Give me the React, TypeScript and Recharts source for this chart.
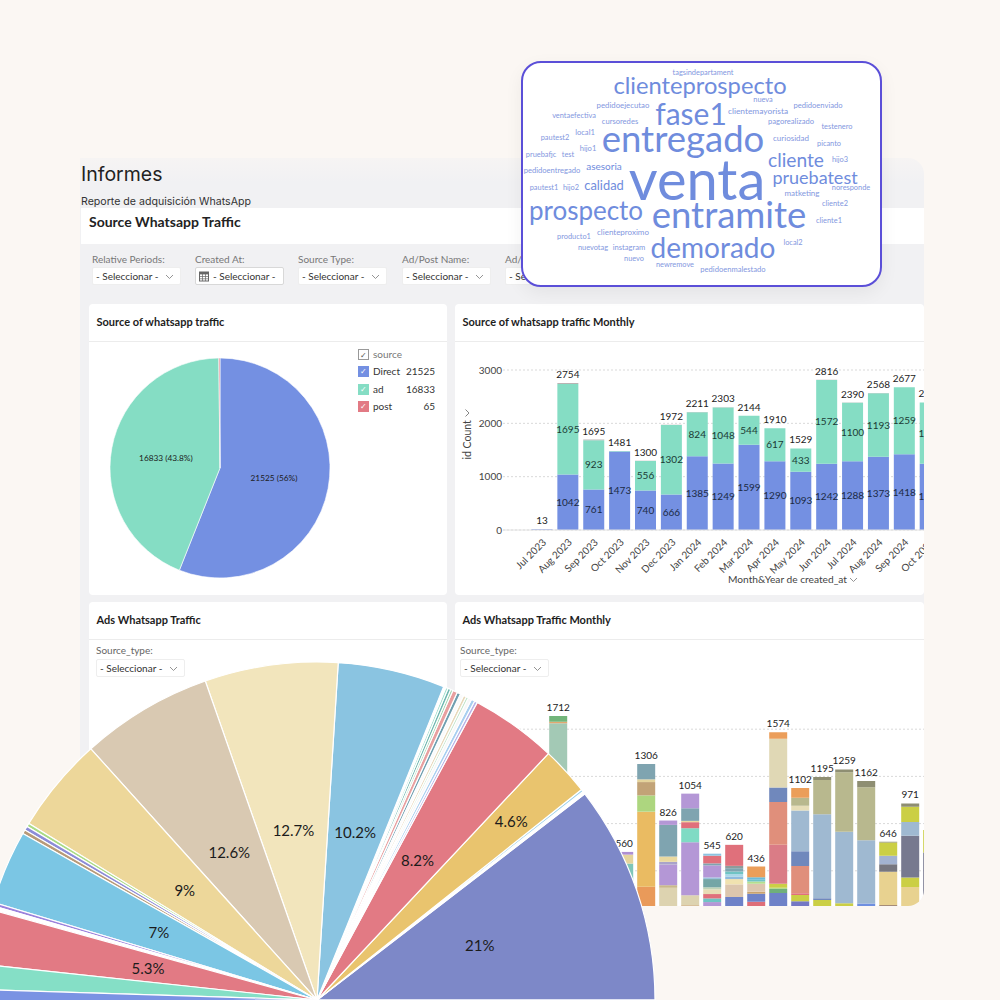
import React from 'react'
import {
  BarChart,
  Bar,
  XAxis,
  YAxis,
  CartesianGrid,
  LabelList,
  PieChart,
  Pie,
  Cell,
} from 'recharts'

const LATO = 'Lato, sans-serif'

// Source of whatsapp traffic
const SOURCE_NAMES = ['Direct', 'ad', 'post']
const SOURCE_VALUES = [21525, 16833, 65]
const SOURCE_LABELS = ['21525 (56%)', '16833 (43.8%)', '']
const SOURCE_COLORS = ['#7490E2', '#85DDC4', '#E27A84']

// Source of whatsapp traffic Monthly
const MONTHS = ['', 'Jul 2023', 'Aug 2023', 'Sep 2023', 'Oct 2023', 'Nov 2023', 'Dec 2023', 'Jan 2024', 'Feb 2024', 'Mar 2024', 'Apr 2024', 'May 2024', 'Jun 2024', 'Jul 2024', 'Aug 2024', 'Sep 2024', 'Oct 2024']
const DIRECT_MONTHLY = [0, 13, 1042, 761, 1473, 740, 666, 1385, 1249, 1599, 1290, 1093, 1242, 1288, 1373, 1418, 1240]
const AD_MONTHLY = [0, 0, 1695, 923, 8, 556, 1302, 824, 1048, 544, 617, 433, 1572, 1100, 1193, 1259, 1150]
const POST_MONTHLY = [0, 0, 17, 11, 0, 4, 4, 2, 6, 1, 3, 3, 2, 2, 2, 0, 2]
const TOTAL_MONTHLY = [null, 13, 2754, 1695, 1481, 1300, 1972, 2211, 2303, 2144, 1910, 1529, 2816, 2390, 2568, 2677, 2392]

// Ads Whatsapp Traffic Monthly, each bar listed from the bottom segment up
const AD_VALUES = [
  [220, 190],
  [300, 260],
  [1650, 14, 48],
  [420, 280],
  [260, 190],
  [311, 150, 76, 23],
  [265, 636, 138, 113, 23, 130],
  [256, 22, 175, 23, 45, 268, 37],
  [108, 85, 449, 119, 51, 11, 107, 124],
  [135, 31, 37, 40, 17, 70, 14, 102, 17, 65, 17],
  [178, 107, 45, 22, 20, 22, 28, 20, 178],
  [137, 68, 17, 68, 20, 14, 22, 90],
  [211, 34, 11, 34, 330, 364, 121, 415, 54],
  [141, 54, 14, 232, 124, 347, 40, 68, 82],
  [153, 14, 712, 291, 25],
  [125, 605, 506, 23],
  [122, 537, 449, 54],
  [111, 280, 65, 71, 113, 6],
  [262, 82, 353, 116, 130, 28],
  [556, 189],
]
const AD_COLORS = [
  ['#9BB8D2', '#E9BD66'],
  ['#7A93E3', '#E27A84'],
  ['#A3C9B5', '#E2A76F', '#72B57A'],
  ['#9BB8D2', '#E9BD66'],
  ['#7A93E3', '#E27A84'],
  ['#E99A5A', '#7FC6B8', '#E5D49C', '#AE8FD3'],
  ['#E99A5A', '#EABB62', '#ADD67F', '#C2A377', '#E5D49C', '#7FA4B0'],
  ['#DDD3B0', '#C9B98A', '#B497D6', '#A9A3C9', '#EAD9A0', '#7FA4B0', '#B497D6'],
  ['#C9A36F', '#DDD3B0', '#B497D6', '#7FDBC4', '#E0707B', '#EAD9A0', '#7FA4B0', '#B497D6'],
  ['#B497D6', '#6FC4C4', '#E0707B', '#E8DDB5', '#BFD3B5', '#74A6A6', '#9CC3DD', '#B497D6', '#7FA4B0', '#E0707B', '#8CC3E0'],
  ['#6E82C8', '#DCC6AE', '#F0E2B0', '#8FBBDD', '#A8D8E8', '#6FC4C4', '#7FA4B0', '#8E9C9C', '#E0707B'],
  ['#DE6E78', '#6E82C8', '#C9A36F', '#DCC6AE', '#B5DE8F', '#6FC4C4', '#6BBAD8', '#EB9E5A'],
  ['#6E82C8', '#6FAF7A', '#B5DE8F', '#CBCF45', '#DA7C86', '#E08F7B', '#7088BC', '#E0D8B5', '#EB9E5A'],
  ['#7478C4', '#CBCF45', '#E0707B', '#E08F7B', '#7088BC', '#9FB9D1', '#E6DDB8', '#B8B88E', '#EB9E5A'],
  ['#CBCF45', '#7088BC', '#9FB9D1', '#B8B88E', '#8E8E72'],
  ['#CBCF45', '#9FB9D1', '#B8B88E', '#8E8E72'],
  ['#6E8FE0', '#9FB9D1', '#B8B88E', '#8E8E72'],
  ['#A58C78', '#E8D290', '#77777F', '#A3B3D0', '#CBCF45', '#8E8E72'],
  ['#E8D290', '#CBCF45', '#77798F', '#9FB9D1', '#CBCF45', '#8E8E72'],
  ['#77798F', '#CBCF45'],
]
const AD_TOTALS = [null, null, 1712, null, null, 560, 1306, 826, 1054, 545, 620, 436, 1574, 1102, 1195, 1259, 1162, 646, 971, null]

// Big overlay pie. Drawn sweep in degrees, labels as printed on it
const BIG_SWEEP = [37.6, 0.5, 0.4, 8.3, 14.9, 0.5, 0.6, 0.6, 0.4, 0.5, 0.6, 0.6, 0.8, 0.4, 0.5, 0.4, 0.4, 18.4, 22.9, 22.7, 16.5, 0.6, 0.7, 0.7, 12.7, 0.6, 0.7, 9.4, 4.3, 2.2, 179.6]
const BIG_LABELS = ['21%', '', '', '4.6%', '8.2%', '', '', '', '', '', '', '', '', '', '', '', '', '10.2%', '12.7%', '12.6%', '9%', '', '', '', '7%', '', '', '5.3%', '', '', '']
const BIG_COLORS = ['#7D88C8', '#FFFFFF', '#9AD0EA', '#E9C46E', '#E27A84', '#B8B4E8', '#A8CFF0', '#F7F7F7', '#BFE3C8', '#E7D8B8', '#FAFAFA', '#6F9FB0', '#E8A0A0', '#9FD4B0', '#6FB8B0', '#A5E0D0', '#FFFFFF', '#8AC4E1', '#F2E5BC', '#D9C9B2', '#EDD79A', '#A9DB85', '#8C8CD8', '#B89A78', '#7BC6E4', '#9B82DC', '#FFFFFF', '#E27A84', '#85DFC6', '#7A93E3', '#7A93E3']

const FILTERS = ['Relative Periods:', 'Created At:', 'Source Type:', 'Ad/Post Name:', 'Ad/Post Id:']
const FILTER_X = [92, 195, 298, 402, 505]

const CLOUD_WORDS = [
  'venta', 'entregado', 'entramite', 'clienteprospecto', 'fase1', 'prospecto', 'demorado', 'cliente', 'pruebatest', 'calidad', 'asesoria',
  'tagsindepartament', 'nueva', 'pedidoejecutao', 'pedidoenviado', 'clientemayorista', 'ventaefectiva', 'cursoredes', 'pagorealizado',
  'testenero', 'local1', 'curiosidad', 'pautest2', 'picanto', 'hijo1', 'pruebafjc', 'test', 'hijo3', 'pedidoentregado', 'hijo2', 'pautest1',
  'matketing', 'noresponde', 'cliente2', 'cliente1', 'clienteproximo', 'producto1', 'local2', 'nuevotag', 'instagram', 'nuevo', 'newremove', 'pedidoenmalestado',
]
const CLOUD_X = [697, 683, 729, 700, 691, 586, 713, 796, 815, 604, 604, 703, 763, 623, 818, 758, 574, 620, 791, 837, 585, 791, 555, 829, 588, 541, 568, 840, 552, 571, 544, 802, 851, 835, 829, 623, 574, 793, 593, 629, 634, 675, 733]
const CLOUD_Y = [179, 138, 214, 86, 113, 210, 247, 160, 177, 185, 166, 73, 100, 106, 106, 111, 116, 122, 122, 127, 133, 138, 138, 144, 149, 155, 155, 160, 171, 188, 188, 193, 188, 204, 221, 232, 237, 243, 248, 248, 259, 265, 270]
const CLOUD_SIZE = [56, 36.5, 36.5, 23.7, 30, 26, 28, 19.2, 18, 12.9, 10, 7.4, 7.4, 7.8, 7.6, 8.4, 7.4, 7.6, 7.6, 7.4, 7.6, 8, 7.4, 7.4, 7.6, 7.4, 7.4, 7.4, 7.6, 7.4, 7.4, 8, 7.4, 7.4, 7.4, 8, 7.4, 7.4, 7.4, 7.6, 7.4, 7.4, 7.6]

const monthlyRows = MONTHS.map((month, i) => ({
  month,
  direct: DIRECT_MONTHLY[i],
  ad: AD_MONTHLY[i],
  post: POST_MONTHLY[i],
  cap: 0.01,
  total: TOTAL_MONTHLY[i],
}))

const adRows = AD_VALUES.map((segments, i) => {
  const row: Record<string, number | null> = { total: AD_TOTALS[i], cap: 0.01 }
  segments.forEach((v, j) => {
    row[`s${j}`] = v
  })
  return row
})
const maxSegments = Math.max(...AD_VALUES.map(s => s.length))
const segmentKeys = Array.from({ length: maxSegments }, (_, j) => j)

const sourceRows = SOURCE_NAMES.map((name, i) => ({ name, value: SOURCE_VALUES[i] }))
const bigRows = BIG_SWEEP.map((value, i) => ({ value, name: BIG_LABELS[i] }))

const bigPieLabel = (props: any) => {
  const { cx, cy, midAngle, index } = props
  const text = BIG_LABELS[index]
  if (!text) return null
  const radius = BIG_SWEEP[index] < 9 ? 264 : 172
  const rad = (midAngle * Math.PI) / 180
  return (
    <text x={cx + radius * Math.cos(rad)} y={cy - radius * Math.sin(rad)} fill="#1b1b1b" fontSize={15} fontFamily={LATO} textAnchor="middle" dominantBaseline="central">
      {text}
    </text>
  )
}

const sourceLabel = (props: any) => {
  const { cx, cy, midAngle, index } = props
  const text = SOURCE_LABELS[index]
  if (!text) return null
  const radius = 55
  const rad = (midAngle * Math.PI) / 180
  return (
    <text x={cx + radius * Math.cos(rad)} y={cy - radius * Math.sin(rad)} fill="#1b1b1b" fontSize={8.3} fontFamily={LATO} textAnchor="middle" dominantBaseline="central">
      {text}
    </text>
  )
}

const hideSmall = (v: any) => (v >= 100 ? v : '')

const Chevron = ({ x, y, color = '#888' }: { x: number; y: number; color?: string }) => (
  <svg style={{ position: 'absolute', left: x, top: y }} width={9} height={6}>
    <path d="M1 1 L4.5 4.5 L8 1" fill="none" stroke={color} strokeWidth={0.9} />
  </svg>
)

const Select = ({ x, y, w = 89, calendar = false }: { x: number; y: number; w?: number; calendar?: boolean }) => (
  <div style={{ position: 'absolute', left: x, top: y, width: w, height: 18, background: '#fff', border: calendar ? '1px solid #d8d8d8' : '1px solid #eeeeee', borderRadius: 2, boxSizing: 'border-box', fontSize: 10, lineHeight: '16px', color: '#333', fontFamily: LATO }}>
    {calendar && (
      <svg style={{ position: 'absolute', left: 3, top: 3 }} width={11} height={11}>
        <rect x={0.5} y={1} width={9} height={9} fill="#fff" stroke="#666" />
        <rect x={0.5} y={1} width={9} height={2.4} fill="#666" />
        <path d="M0.5 5.5H9.5M0.5 7.8H9.5M3.5 3V10M6.5 3V10" stroke="#666" strokeWidth={0.7} />
      </svg>
    )}
    <span style={{ position: 'absolute', left: calendar ? 17 : 3, top: 0, whiteSpace: 'nowrap' }}>- Seleccionar -</span>
    {!calendar && <Chevron x={w - 17} y={6} />}
  </div>
)

const Card = ({ x, y, w, h, title, radius, children }: any) => (
  <div style={{ position: 'absolute', left: x, top: y, width: w, height: h, background: '#fff', borderRadius: radius || '4px', overflow: 'hidden' }}>
    <div style={{ position: 'absolute', left: 7.5, top: 11, fontSize: 11, lineHeight: '14px', fontWeight: 700, color: '#1d1d1d', fontFamily: LATO, whiteSpace: 'nowrap' }}>{title}</div>
    <div style={{ position: 'absolute', left: 0, right: 0, top: 37, height: 1, background: '#ececec' }} />
    {children}
  </div>
)

const LegendBox = ({ y, color, check = '#fff' }: { y: number; color: string; check?: string }) => (
  <div style={{ position: 'absolute', left: 358, top: y, width: 11, height: 11, background: color, border: color === '#fff' ? '1px solid #999' : 'none', boxSizing: 'border-box', color: check, fontSize: 8, lineHeight: '11px', textAlign: 'center' }}>✓</div>
)

const App = () => {
  return (
    <div style={{ position: 'absolute', left: 0, top: 0, width: 1000, height: 1000, background: '#FBF7F3', overflow: 'hidden', fontFamily: LATO }}>
      {/* dashboard panel */}
      <div style={{ position: 'absolute', left: 80, top: 158, width: 844, height: 748, background: 'linear-gradient(#F6F4F3 0, #F1F1F3 24px)', borderRadius: '0 16px 16px 0' }} />
      <div style={{ position: 'absolute', left: 81, top: 162, fontSize: 19.5, lineHeight: '24px', color: '#222', fontFamily: 'Inter, sans-serif' }}>Informes</div>
      <div style={{ position: 'absolute', left: 81, top: 195, fontSize: 10.6, lineHeight: '14px', color: '#333', fontFamily: 'Inter, sans-serif', whiteSpace: 'nowrap' }}>Reporte de adquisición WhatsApp</div>
      <div style={{ position: 'absolute', left: 81, top: 208, width: 843, height: 36, background: '#fff' }} />
      <div style={{ position: 'absolute', left: 89, top: 213, fontSize: 14, lineHeight: '18px', fontWeight: 700, color: '#222', whiteSpace: 'nowrap' }}>Source Whatsapp Traffic</div>

      {FILTERS.map((label, i) => (
        <React.Fragment key={label}>
          <div style={{ position: 'absolute', left: FILTER_X[i], top: 253, fontSize: 10, lineHeight: '13px', color: '#777', whiteSpace: 'nowrap' }}>{label}</div>
          <Select x={FILTER_X[i]} y={267} calendar={i === 1} />
        </React.Fragment>
      ))}

      <Card x={89} y={304} w={358} h={291} title="Source of whatsapp traffic">
        <div style={{ position: 'absolute', left: 0, top: 0 }}>
          <PieChart width={358} height={291} margin={{ top: 0, right: 0, bottom: 0, left: 0 }}>
            <Pie
              data={sourceRows}
              dataKey="value"
              cx={131}
              cy={164}
              outerRadius={110}
              startAngle={90}
              endAngle={-270}
              stroke="#fff"
              strokeWidth={0.6}
              label={sourceLabel}
              labelLine={false}
              isAnimationActive={false}
            >
              {sourceRows.map((_, i) => (
                <Cell key={i} fill={SOURCE_COLORS[i]} />
              ))}
            </Pie>
          </PieChart>
        </div>
      </Card>

      {/* legend of the source pie */}
      <LegendBox y={349} color="#fff" check="#555" />
      <div style={{ position: 'absolute', left: 373, top: 348, fontSize: 10, lineHeight: '13px', color: '#777' }}>source</div>
      {SOURCE_NAMES.map((name, i) => (
        <React.Fragment key={name}>
          <LegendBox y={366 + i * 17.5} color={SOURCE_COLORS[i]} />
          <div style={{ position: 'absolute', left: 373, top: 365 + i * 17.5, fontSize: 10, lineHeight: '13px', color: '#333' }}>{name}</div>
          <div style={{ position: 'absolute', right: 1000 - 435, top: 365 + i * 17.5, fontSize: 10, lineHeight: '13px', color: '#333' }}>{SOURCE_VALUES[i]}</div>
        </React.Fragment>
      ))}

      <Card x={455} y={304} w={469} h={291} title="Source of whatsapp traffic Monthly">
        <div style={{ position: 'absolute', left: 0, top: 46 }}>
          <BarChart width={488} height={240} data={monthlyRows} margin={{ top: 20, right: 0, bottom: 0, left: 0 }} barCategoryGap="10%">
            <CartesianGrid vertical={false} stroke="#d9d9d9" strokeDasharray="2 2" />
            <XAxis
              dataKey="month"
              interval={0}
              angle={-45}
              textAnchor="end"
              height={60}
              tickLine={false}
              tick={{ fontSize: 10, fill: '#444', fontFamily: LATO }}
              stroke="#e2e2e2"
            />
            <YAxis
              width={48}
              domain={[0, 3000]}
              ticks={[0, 1000, 2000, 3000]}
              axisLine={false}
              tickLine={false}
              tickSize={0}
              tickMargin={1}
              tick={{ fontSize: 10, fill: '#444', fontFamily: LATO }}
            />
            <Bar dataKey="direct" stackId="a" fill={SOURCE_COLORS[0]} isAnimationActive={false}>
              <LabelList dataKey="direct" position="center" formatter={hideSmall} fontSize={10} fill="#1b2a44" fontFamily={LATO} />
            </Bar>
            <Bar dataKey="ad" stackId="a" fill={SOURCE_COLORS[1]} isAnimationActive={false}>
              <LabelList dataKey="ad" position="center" formatter={hideSmall} fontSize={10} fill="#1b3a34" fontFamily={LATO} />
            </Bar>
            <Bar dataKey="post" stackId="a" fill="#B9B3B3" isAnimationActive={false} />
            <Bar dataKey="cap" stackId="a" fill="transparent" isAnimationActive={false}>
              <LabelList dataKey="total" position="top" fontSize={10} fill="#222" fontFamily={LATO} />
            </Bar>
          </BarChart>
        </div>
        <div style={{ position: 'absolute', left: -7, top: 129.5, width: 38, textAlign: 'center', fontSize: 10.5, lineHeight: '13px', color: '#444', transform: 'rotate(-90deg)', whiteSpace: 'nowrap' }}>id Count</div>
        <div style={{ position: 'absolute', left: 7.5, top: 106, transform: 'rotate(-90deg)' }}>
          <svg width={9} height={6} style={{ display: 'block' }}>
            <path d="M1 1 L4.5 4.5 L8 1" fill="none" stroke="#777" strokeWidth={0.9} />
          </svg>
        </div>
        <div style={{ position: 'absolute', left: 273, top: 269, fontSize: 10.2, lineHeight: '13px', color: '#444', whiteSpace: 'nowrap' }}>Month&amp;Year de created_at</div>
        <Chevron x={394} y={273} />
      </Card>

      <Card x={89} y={602} w={358} h={304} title="Ads Whatsapp Traffic">
        <div style={{ position: 'absolute', left: 7, top: 42, fontSize: 10, lineHeight: '13px', color: '#666' }}>Source_type:</div>
        <Select x={7} y={57} />
      </Card>

      <Card x={455} y={602} w={468.5} h={304} title="Ads Whatsapp Traffic Monthly" radius="4px 4px 16px 4px">
        <div style={{ position: 'absolute', left: 5, top: 42, fontSize: 10, lineHeight: '13px', color: '#666' }}>Source_type:</div>
        <Select x={5} y={57} />
        <div style={{ position: 'absolute', left: 48, top: 60 }}>
          <BarChart width={440} height={256} data={adRows} margin={{ top: 20, right: 0, bottom: 0, left: 0 }} barCategoryGap="10%">
            <CartesianGrid vertical={false} stroke="#d9d9d9" strokeDasharray="2 2" horizontalValues={[400, 800, 1200, 1600]} />
            <XAxis hide height={0} />
            <YAxis hide width={0} domain={[0, 2000]} ticks={[0, 400, 800, 1200, 1600, 2000]} />
            {segmentKeys.map(j => (
              <Bar key={j} dataKey={`s${j}`} stackId="b" isAnimationActive={false}>
                {AD_COLORS.map((colors, i) => (
                  <Cell key={i} fill={colors[j] || '#fff'} />
                ))}
              </Bar>
            ))}
            <Bar dataKey="cap" stackId="b" fill="transparent" isAnimationActive={false}>
              <LabelList dataKey="total" position="top" fontSize={10} fill="#222" fontFamily={LATO} />
            </Bar>
          </BarChart>
        </div>
      </Card>

      {/* word cloud */}
      <div style={{ position: 'absolute', left: 521, top: 61, width: 361, height: 226, boxSizing: 'border-box', background: '#fff', border: '2px solid #5B4FD8', borderRadius: 20, boxShadow: '0 6px 18px rgba(0,0,0,0.06)' }} />
      {CLOUD_WORDS.map((word, i) => (
        <div
          key={word}
          style={{
            position: 'absolute',
            left: CLOUD_X[i],
            top: CLOUD_Y[i],
            transform: 'translate(-50%, -50%)',
            fontSize: CLOUD_SIZE[i],
            lineHeight: 1,
            color: CLOUD_SIZE[i] < 9 ? '#8397E0' : '#6F8CDD',
            fontFamily: LATO,
            whiteSpace: 'nowrap',
          }}
        >
          {word}
        </div>
      ))}

      {/* big pie on top of everything, its lower half runs off the page */}
      <div style={{ position: 'absolute', left: 0, top: 0 }}>
        <PieChart width={1000} height={1000} margin={{ top: 0, right: 0, bottom: 0, left: 0 }}>
          <Pie
            data={bigRows}
            dataKey="value"
            cx={317}
            cy={1000}
            outerRadius={338}
            startAngle={0}
            endAngle={360}
            stroke="#fff"
            strokeWidth={1.2}
            label={bigPieLabel}
            labelLine={false}
            isAnimationActive={false}
          >
            {bigRows.map((_, i) => (
              <Cell key={i} fill={BIG_COLORS[i]} />
            ))}
          </Pie>
        </PieChart>
      </div>
    </div>
  )
}

export default App
